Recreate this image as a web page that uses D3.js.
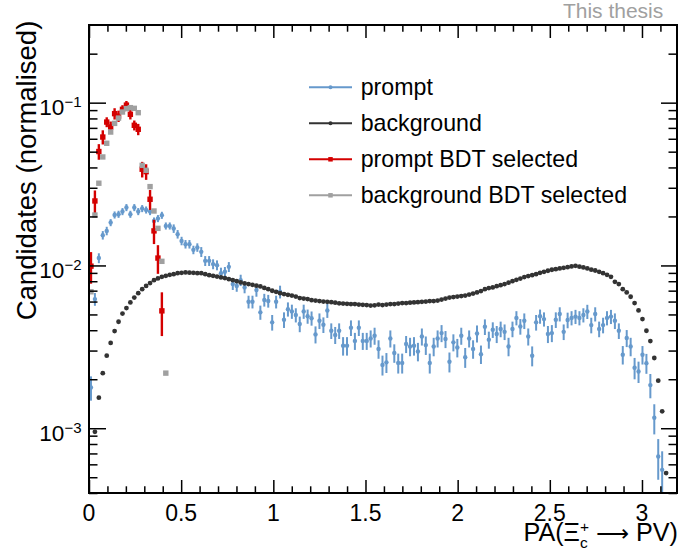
<!DOCTYPE html>
<html>
<head>
<meta charset="utf-8">
<script src="https://cdn.jsdelivr.net/npm/d3@7"></script>
<style>
  body { margin: 0; background: #fff; }
  svg { display: block; }
  text { font-family: "Liberation Sans", Arial, Helvetica, sans-serif; }
</style>
</head>
<body>
<svg id="chart" width="679" height="554"></svg>
<script>
// histogram binning: 147 bins over [0, pi]
const N_BINS = 147, X_LO = 0, X_HI = Math.PI;

// prompt (normalised), bins 0..145
const prompt = [0.00178, 0.00621, 0.0111, 0.01534, 0.0163, 0.01834, 0.02044, 0.02064, 0.02144, 0.02269,
    0.02064, 0.02269, 0.02144, 0.02237, 0.02193, 0.02144, 0.01877, 0.01942, 0.02035, 0.01749,
    0.01749, 0.01686, 0.01556, 0.01415, 0.01351, 0.01351, 0.01247, 0.0129, 0.01212, 0.01067,
    0.01067, 0.01019, 0.01004, 0.00897, 0.00914, 0.0098, 0.00768, 0.00749, 0.00812, 0.00733,
    0.00598, 0.00598, 0.00706, 0.00515, 0.00614, 0.00605, 0.00447, 0.00598, 0.00689, 0.00464,
    0.00539, 0.00522, 0.00496, 0.00437, 0.00522, 0.00487, 0.00474, 0.00377, 0.00457, 0.00432,
    0.00529, 0.00397, 0.00374, 0.00397, 0.00321, 0.00321, 0.00414, 0.00344, 0.00414, 0.00344,
    0.00344, 0.00356, 0.0037, 0.00307, 0.00245, 0.00254, 0.00356, 0.0029, 0.00252, 0.00252,
    0.00329, 0.00318, 0.00321, 0.00296, 0.00366, 0.00324, 0.00252, 0.00318, 0.00356, 0.00384,
    0.00353, 0.00256, 0.00337, 0.00313, 0.0037, 0.00273, 0.00356, 0.00307, 0.00382, 0.00285,
    0.0042, 0.0035, 0.00403, 0.00379, 0.00407, 0.00391, 0.00318, 0.00407, 0.00476, 0.00422,
    0.00457, 0.00366, 0.00279, 0.00447, 0.00487, 0.00468, 0.00379, 0.00384, 0.00464, 0.00503,
    0.00391, 0.00462, 0.00476, 0.00485, 0.00476, 0.00496, 0.00521, 0.0043, 0.00503, 0.00407,
    0.0043, 0.00476, 0.00485, 0.00457, 0.00397, 0.00283, 0.00358, 0.00318, 0.00235, 0.00223,
    0.00283, 0.00251, 0.00184, 0.00116, 0.00067, 0.000555];

// prompt relative errors in percent
const promptErrPct = [17, 9, 7, 6, 6, 5, 5, 5, 5, 5,
    5, 5, 5, 5, 5, 5, 5, 5, 5, 5,
    5, 6, 6, 6, 6, 6, 6, 6, 7, 7,
    7, 7, 7, 8, 7, 7, 8, 8, 8, 8,
    9, 9, 9, 10, 9, 9, 11, 9, 9, 11,
    10, 10, 10, 11, 10, 10, 10, 12, 11, 11,
    10, 11, 12, 11, 13, 13, 11, 12, 11, 12,
    12, 12, 12, 13, 14, 14, 12, 13, 14, 14,
    12, 13, 13, 13, 12, 13, 14, 13, 12, 12,
    12, 14, 12, 13, 12, 14, 12, 13, 12, 13,
    11, 12, 11, 12, 11, 11, 13, 11, 10, 11,
    11, 12, 14, 11, 10, 10, 12, 12, 11, 10,
    11, 11, 10, 10, 10, 10, 10, 11, 10, 11,
    11, 10, 10, 11, 11, 13, 12, 13, 15, 15,
    13, 14, 17, 21, 28, 30];

// background (normalised), bins 0..146
const background = [null, 0.00095, 0.00154, 0.00218, 0.00279, 0.00334, 0.00395, 0.00451, 0.00506, 0.00547, 0.00593,
    0.00635, 0.00676, 0.00715, 0.00749, 0.00779, 0.00812, 0.00832, 0.00851, 0.00863, 0.00876,
    0.00884, 0.00897, 0.00901, 0.00906, 0.00903, 0.00901, 0.00897, 0.00897, 0.00884, 0.00872,
    0.00863, 0.00854, 0.00844, 0.00836, 0.00824, 0.00812, 0.00801, 0.00786, 0.00775, 0.00768,
    0.00760, 0.00751, 0.00743, 0.00728, 0.00715, 0.00699, 0.00689, 0.00676, 0.00667, 0.00660,
    0.00653, 0.00644, 0.00630, 0.00626, 0.00621, 0.00612, 0.00608, 0.00604, 0.00600, 0.00598,
    0.00595, 0.00591, 0.00585, 0.00583, 0.00581, 0.00579, 0.00579, 0.00575, 0.00573, 0.00571,
    0.00567, 0.00569, 0.00575, 0.00571, 0.00575, 0.00579, 0.00579, 0.00583, 0.00587, 0.00587,
    0.00591, 0.00593, 0.00595, 0.00598, 0.00600, 0.00604, 0.00604, 0.00608, 0.00617, 0.00626,
    0.00635, 0.00639, 0.00644, 0.00648, 0.00653, 0.00662, 0.00672, 0.00683, 0.00696, 0.00715,
    0.00726, 0.00733, 0.00746, 0.00757, 0.00768, 0.00784, 0.00801, 0.00816, 0.00830, 0.00848,
    0.00860, 0.00872, 0.00884, 0.00901, 0.00914, 0.00928, 0.00941, 0.00949, 0.00959, 0.00967,
    0.00976, 0.00986, 0.00994, 0.00983, 0.00972, 0.00959, 0.00942, 0.00931, 0.00914, 0.00897,
    0.00876, 0.00851, 0.00793, 0.00768, 0.00715, 0.00683, 0.00642, 0.00587, 0.00529, 0.00468,
    0.00397, 0.00343, 0.00270, 0.00196, 0.00127, 0.00053];

// prompt BDT selected, bins 0..18
const promptBDT = [0.0099, 0.0249, 0.0501, 0.0615, 0.0760, 0.0709, 0.0856, 0.0827, 0.0910, 0.0966,
    0.0848, 0.0726, 0.0686, 0.0390, 0.0377, 0.0255, 0.0163, 0.0111, 0.00526];
const promptBDTErrPct = [22, 16, 11, 10, 7, 8, 8, 8, 6, 6,
    7, 7, 8, 11, 11, 14, 17, 20, 30];

// background BDT selected, bins 0..19
const backgroundBDT = [0.00689, 0.0204, 0.0320, 0.0464, 0.0563, 0.0660, 0.0746, 0.0804, 0.0876, 0.0919,
    0.0932, 0.0923, 0.0868, 0.0412, 0.0384, 0.0305, 0.0216, 0.0169, 0.0106, 0.00218];
const backgroundBDTErrPct = [1.5, 1, 0.8, 0.6, 0.5, 0.5, 0.5, 0.5, 0.5, 0.5,
    0.5, 0.5, 0.5, 0.8, 0.8, 0.9, 1, 1.2, 1.5, 2.5];

const xTicks = [0, 0.5, 1, 1.5, 2, 2.5, 3];
const xTickLabels = ["0", "0.5", "1", "1.5", "2", "2.5", "3"];
const yDecades = [1e-3, 1e-2, 1e-1];
const yDecadeExps = ["\u22123", "\u22122", "\u22121"];
const legendLabels = ["prompt", "background", "prompt BDT selected", "background BDT selected"];

const BLUE = "#6699cc", DARK = "#333333", RED = "#d40000", GREY = "#a0a0a0";

const svg = d3.select("#chart");
svg.append("rect").attr("width", 679).attr("height", 554).attr("fill", "#fff");

const frame = {left: 89, right: 677, top: 25, bottom: 493};
const x = d3.scaleLinear().domain([0, 3.19]).range([frame.left, frame.right]);
const y = d3.scaleLog().domain([4e-4, 0.3]).range([frame.bottom, frame.top]);

const binW = (X_HI - X_LO) / N_BINS;
const binCenter = i => X_LO + (i + 0.5) * binW;

svg.append("clipPath").attr("id", "frameClip")
    .append("rect")
    .attr("x", frame.left).attr("y", frame.top)
    .attr("width", frame.right - frame.left).attr("height", frame.bottom - frame.top);

const plot = svg.append("g").attr("clip-path", "url(#frameClip)");

function drawSeries(vals, errPct, style) {
    const pts = vals.map((v, i) => ({i, v, e: errPct ? errPct[i] / 100 : 0}))
        .filter(d => d.v != null);
    const g = plot.append("g");
    g.selectAll("line").data(pts.filter(d => d.e > 0)).join("line")
        .attr("x1", d => x(binCenter(d.i)))
        .attr("x2", d => x(binCenter(d.i)))
        .attr("y1", d => y(Math.max(d.v * (1 - d.e), 1e-5)))
        .attr("y2", d => y(d.v * (1 + d.e)))
        .attr("stroke", style.color)
        .attr("stroke-width", style.barWidth);
    if (style.shape === "circle") {
        g.selectAll("circle").data(pts).join("circle")
            .attr("cx", d => x(binCenter(d.i)))
            .attr("cy", d => y(d.v))
            .attr("r", style.size)
            .attr("fill", style.color);
    } else {
        g.selectAll("rect").data(pts).join("rect")
            .attr("x", d => x(binCenter(d.i)) - style.size / 2)
            .attr("y", d => y(d.v) - style.size / 2)
            .attr("width", style.size)
            .attr("height", style.size)
            .attr("fill", style.color);
    }
}

drawSeries(prompt, promptErrPct, {color: BLUE, barWidth: 2, shape: "circle", size: 2.2});
drawSeries(background, null, {color: DARK, barWidth: 0, shape: "circle", size: 2.4});
drawSeries(promptBDT, promptBDTErrPct, {color: RED, barWidth: 2.4, shape: "square", size: 5.4});
drawSeries(backgroundBDT, backgroundBDTErrPct, {color: GREY, barWidth: 2.2, shape: "square", size: 5.4});

// ---- axes (ROOT style: ticks inside the frame on all four sides)
const xMinor = d3.range(0, 32).filter(i => i % 5 !== 0).map(i => i / 10);
const yMinor = [];
[-4, -3, -2, -1].forEach(p => {
    for (let k = 2; k <= 9; k++) {
        const v = k * Math.pow(10, p);
        if (v >= 4e-4 && v <= 0.3) yMinor.push(v);
    }
});

function tickAxis(axisFn, scale, values, size, transform) {
    const g = svg.append("g").attr("transform", transform)
        .call(axisFn(scale).tickValues(values).tickSize(-size).tickSizeOuter(0).tickFormat(""));
    g.select(".domain").remove();
    g.selectAll(".tick line").attr("stroke", "#000").attr("stroke-width", 1.5);
}

tickAxis(d3.axisBottom, x, xTicks, 13, `translate(0,${frame.bottom})`);
tickAxis(d3.axisBottom, x, xMinor, 6.7, `translate(0,${frame.bottom})`);
tickAxis(d3.axisTop, x, xTicks, 13, `translate(0,${frame.top})`);
tickAxis(d3.axisTop, x, xMinor, 6.7, `translate(0,${frame.top})`);
tickAxis(d3.axisLeft, y, yDecades, 17, `translate(${frame.left},0)`);
tickAxis(d3.axisLeft, y, yMinor, 8.5, `translate(${frame.left},0)`);
tickAxis(d3.axisRight, y, yDecades, 16, `translate(${frame.right},0)`);
tickAxis(d3.axisRight, y, yMinor, 8.5, `translate(${frame.right},0)`);

svg.append("rect")
    .attr("x", frame.left).attr("y", frame.top)
    .attr("width", frame.right - frame.left).attr("height", frame.bottom - frame.top)
    .attr("fill", "none").attr("stroke", "#000").attr("stroke-width", 2);

// x tick labels
svg.append("g").selectAll("text").data(xTicks).join("text")
    .attr("x", d => x(d))
    .attr("y", 520.5)
    .attr("text-anchor", "middle")
    .attr("font-size", 23)
    .text((d, i) => xTickLabels[i]);

// y tick labels: 10^{-n}
const yLab = svg.append("g").selectAll("text").data(yDecades).join("text")
    .attr("x", 81.5)
    .attr("y", d => y(d) + 12.3)
    .attr("text-anchor", "end")
    .attr("font-size", 22.5);
yLab.append("tspan").text("10");
yLab.append("tspan").attr("font-size", 15).attr("dy", -7.7).text((d, i) => yDecadeExps[i]);

// axis titles
const xt = svg.append("text")
    .attr("x", 678).attr("y", 540.5)
    .attr("text-anchor", "end")
    .attr("font-size", 25.2);
xt.append("tspan").text("PA(\u039E");
xt.append("tspan").attr("font-size", 15.5).attr("dy", 7).text("c");
xt.append("tspan").attr("font-size", 15.5).attr("dx", -7.8).attr("dy", -16).text("+");
xt.append("tspan").attr("dy", 9).text(" ");
xt.append("tspan").attr("font-family", "DejaVu Sans").attr("font-size", 23).text("\u27F6");
xt.append("tspan").text(" PV)");

svg.append("text")
    .attr("transform", "translate(35.5,20.7) rotate(-90)")
    .attr("text-anchor", "end")
    .attr("font-size", 27.5)
    .text("Candidates (normalised)");

svg.append("text")
    .attr("x", 663.3).attr("y", 17.5)
    .attr("text-anchor", "end")
    .attr("font-size", 21)
    .attr("fill", GREY)
    .text("This thesis");

// legend
const legendStyles = [
    {color: BLUE, shape: "circle", size: 2},
    {color: DARK, shape: "circle", size: 2},
    {color: RED, shape: "square", size: 4.5},
    {color: GREY, shape: "square", size: 4.5}
];
const leg = svg.append("g").selectAll("g").data(legendLabels).join("g")
    .attr("transform", (d, i) => `translate(0,${87.3 + i * 36})`);
leg.append("line")
    .attr("x1", 309).attr("x2", 352)
    .attr("stroke", (d, i) => legendStyles[i].color)
    .attr("stroke-width", 2);
leg.each(function (d, i) {
    const s = legendStyles[i];
    const g = d3.select(this);
    if (s.shape === "circle") {
        g.append("circle").attr("cx", 330.5).attr("cy", 0).attr("r", s.size).attr("fill", s.color);
    } else {
        g.append("rect").attr("x", 330.5 - s.size / 2).attr("y", -s.size / 2)
            .attr("width", s.size).attr("height", s.size).attr("fill", s.color);
    }
});
leg.append("text")
    .attr("x", 360.7).attr("y", 7.7)
    .attr("font-size", 23.2)
    .text(d => d);
</script>
</body>
</html>
